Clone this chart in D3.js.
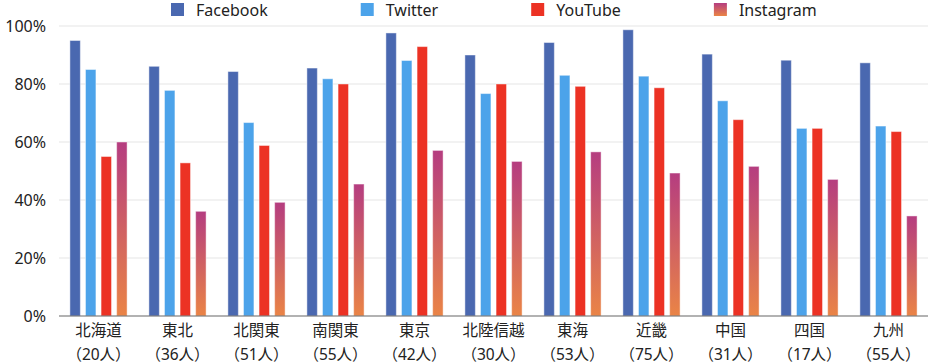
<!DOCTYPE html>
<html>
<head>
<meta charset="utf-8">
<script src="https://cdn.jsdelivr.net/npm/d3@7"></script>
<style>
  body { margin: 0; background: #fff; }
  svg { display: block; font-family: "Noto Sans", "Noto Sans CJK JP", sans-serif; }
</style>
</head>
<body>
<svg id="chart" width="928" height="364"></svg>
<script>
// regions (x labels, two lines)
const regions = ['北海道', '東北', '北関東', '南関東', '東京', '北陸信越', '東海', '近畿', '中国', '四国', '九州'];
const counts = ['（20人）', '（36人）', '（51人）', '（55人）', '（42人）', '（30人）', '（53人）', '（75人）', '（31人）', '（17人）', '（55人）'];

// share per service, %
const facebook  = [95.0, 86.1, 84.3, 85.5, 97.6, 90.0, 94.3, 98.7, 90.3, 88.2, 87.3];
const twitter   = [85.0, 77.8, 66.7, 81.8, 88.1, 76.7, 83.0, 82.7, 74.2, 64.7, 65.5];
const youtube   = [55.0, 52.8, 58.8, 80.0, 92.9, 80.0, 79.2, 78.7, 67.7, 64.7, 63.6];
const instagram = [60.0, 36.1, 39.2, 45.5, 57.1, 53.3, 56.6, 49.3, 51.6, 47.1, 34.5];

const seriesNames = ['Facebook', 'Twitter', 'YouTube', 'Instagram'];
const yTicks = [0, 20, 40, 60, 80, 100];

const colors = {Facebook: '#4a68b0', Twitter: '#4ca3ea', YouTube: '#ec3224', Instagram: 'url(#igGrad)'};

const margin = {top: 26, right: 0, bottom: 48, left: 59};
const svg = d3.select('#chart');
const width = 928 - margin.left - margin.right;
const height = 364 - margin.top - margin.bottom;

const defs = svg.append('defs');
//instagram gradient, top to bottom
const grad = defs.append('linearGradient')
    .attr('id', 'igGrad')
    .attr('x1', 0).attr('y1', 0).attr('x2', 0).attr('y2', 1);
grad.append('stop').attr('offset', '0%').attr('stop-color', '#b53d80');
grad.append('stop').attr('offset', '100%').attr('stop-color', '#ea8446');

const g = svg.append('g').attr('transform', `translate(${margin.left},${margin.top})`);

const x0 = d3.scaleBand().domain(regions).range([0, width]);
const x1 = d3.scaleBand().domain(seriesNames).range([0, x0.bandwidth()])
    .paddingInner(0.33).paddingOuter(0.7);
const y = d3.scaleLinear().domain([0, 100]).range([height, 0]);

//grid lines
g.append('g')
    .selectAll('line')
    .data(yTicks.filter(d => d > 0))
    .enter().append('line')
    .attr('x1', 0).attr('x2', width)
    .attr('y1', d => y(d)).attr('y2', d => y(d))
    .attr('stroke', '#e6e6e6')
    .attr('stroke-width', 1.2);

//y axis labels
const yAxis = d3.axisLeft(y).tickValues(yTicks).tickFormat(d => d + '%').tickSize(0).tickPadding(13);
g.append('g')
    .call(yAxis)
    .call(a => a.select('.domain').remove())
    .selectAll('text')
    .attr('font-size', 16)
    .attr('fill', '#222')
    .attr('font-family', '"Noto Sans", "Noto Sans CJK JP", sans-serif');

//bars
const seriesData = {Facebook: facebook, Twitter: twitter, YouTube: youtube, Instagram: instagram};
const groups = g.append('g').selectAll('g')
    .data(regions)
    .enter().append('g')
    .attr('transform', d => `translate(${x0(d)},0)`);

groups.selectAll('rect')
    .data((r, i) => seriesNames.map(s => ({series: s, val: seriesData[s][i]})))
    .enter().append('rect')
    .attr('x', d => x1(d.series))
    .attr('y', d => y(d.val))
    .attr('width', x1.bandwidth())
    .attr('height', d => height - y(d.val))
    .attr('fill', d => colors[d.series])
    .attr('stroke', 'rgba(255,255,255,0.45)')
    .attr('stroke-width', 1);

//baseline
g.append('line')
    .attr('x1', 0).attr('x2', width)
    .attr('y1', height).attr('y2', height)
    .attr('stroke', '#666')
    .attr('stroke-width', 1.2);

//x labels
const xl = g.append('g').selectAll('text')
    .data(regions)
    .enter().append('text')
    .attr('x', d => x0(d) + x0.bandwidth() / 2)
    .attr('y', height + 20)
    .attr('text-anchor', 'middle')
    .attr('font-size', 15.5)
    .attr('fill', '#222');
xl.append('tspan').text(d => d);
xl.append('tspan')
    .attr('x', d => x0(d) + x0.bandwidth() / 2)
    .attr('dy', 24)
    .text((d, i) => counts[i]);

//legend
const legend = svg.append('g');
let lx = 171;
seriesNames.forEach(s => {
    const item = legend.append('g').attr('transform', `translate(${lx},0)`);
    item.append('rect')
        .attr('x', 0).attr('y', 3)
        .attr('width', 13).attr('height', 13)
        .attr('fill', colors[s]);
    const t = item.append('text')
        .attr('x', 25).attr('y', 16)
        .attr('font-size', 16)
        .attr('fill', '#222')
        .text(s);
    lx += 25 + t.node().getComputedTextLength() + 93;
});
</script>
</body>
</html>
